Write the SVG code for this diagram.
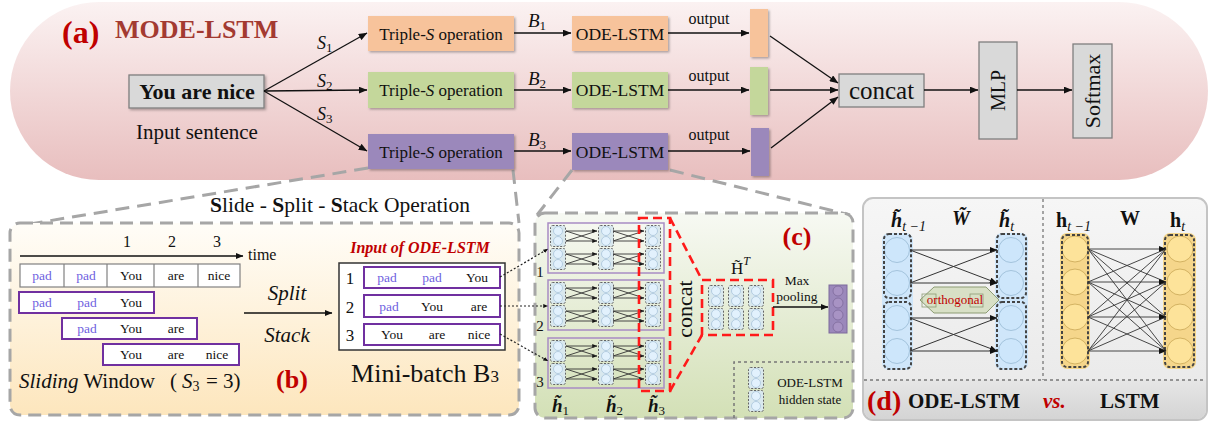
<svg xmlns="http://www.w3.org/2000/svg" width="1211" height="425" viewBox="0 0 1211 425">
  <defs>
    <style>
      text { font-family: "Liberation Serif", "Times New Roman", serif; fill: #111; }
      .mid { text-anchor: middle; }
      .it { font-style: italic; }
      .bd { font-weight: bold; }
      .red { fill: #c00000; }
      .tok { font-size: 13.5px; text-anchor: middle; }
      .pad { fill: #6f5fe0; }
      .conn { stroke: #111; stroke-width: 1.3; fill: none; }
      .thin { stroke: #333; stroke-width: 0.9; fill: none; }
      .zoomline { stroke: #a6a6a6; stroke-width: 3; stroke-dasharray: 14 8; fill: none; }
      .panel { stroke: #a6a6a6; stroke-width: 3; stroke-dasharray: 13 7; }
      .dotted { stroke: #222; stroke-width: 1.2; stroke-dasharray: 2 2; fill: none; }
      .win { fill: #fff; stroke: #7030a0; stroke-width: 2; }
      .blk { fill: none; stroke: #a88cc4; stroke-width: 1.5; }
      .reddash { fill: none; stroke: #ff1a1a; stroke-width: 2.6; stroke-dasharray: 9 5; }
      .gray { fill: #d9d9d9; stroke: #7f7f7f; stroke-width: 1.3; }
      .orange { fill: #f7c39b; }
      .green { fill: #c4d79b; }
      .purple { fill: #9b88bb; }
      .bcirc { fill: #cde6fb; stroke: #a3c3dc; stroke-width: 1; }
      .ycirc { fill: #fde39a; stroke: #d3b262; stroke-width: 1; }
      .dcell { fill: none; stroke: #444; stroke-width: 2; stroke-dasharray: 3 2; }
      .divider { stroke: #777; stroke-width: 1.3; stroke-dasharray: 3 3; fill: none; }
      .up { font-style: normal; font-weight: normal; }
    </style>
    <linearGradient id="gPill" x1="0" y1="0" x2="0" y2="1">
      <stop offset="0" stop-color="#fbf2f2"/>
      <stop offset="1" stop-color="#e8bebe"/>
    </linearGradient>
    <linearGradient id="gB" x1="0" y1="0" x2="0" y2="1">
      <stop offset="0" stop-color="#fffdf8"/>
      <stop offset="1" stop-color="#fde6bd"/>
    </linearGradient>
    <linearGradient id="gC" x1="0" y1="0" x2="0" y2="1">
      <stop offset="0" stop-color="#f7f9f3"/>
      <stop offset="1" stop-color="#d3e0b6"/>
    </linearGradient>
    <linearGradient id="gD" x1="0" y1="0" x2="0" y2="1">
      <stop offset="0" stop-color="#f6f6f6"/>
      <stop offset="1" stop-color="#e8e8e8"/>
    </linearGradient>
    <linearGradient id="gD2" x1="0" y1="0" x2="0" y2="1">
      <stop offset="0" stop-color="#e6e6e6"/>
      <stop offset="1" stop-color="#d4d4d4"/>
    </linearGradient>
    <filter id="sh" x="-10%" y="-10%" width="130%" height="140%">
      <feDropShadow dx="1.5" dy="1.5" stdDeviation="0.8" flood-color="#000" flood-opacity="0.3"/>
    </filter>
    <marker id="ah" viewBox="0 0 10 8" markerWidth="9" markerHeight="7" refX="9.5" refY="4" orient="auto" markerUnits="userSpaceOnUse">
      <path d="M0,0 L10,4 L0,8 z" fill="#111"/>
    </marker>
    <marker id="am" viewBox="0 0 10 8" markerWidth="8" markerHeight="6" refX="9.5" refY="4" orient="auto" markerUnits="userSpaceOnUse">
      <path d="M0,0 L10,4 L0,8 z" fill="#111"/>
    </marker>
    <marker id="as" viewBox="0 0 10 8" markerWidth="5" markerHeight="4" refX="9.5" refY="4" orient="auto" markerUnits="userSpaceOnUse">
      <path d="M0,0 L10,4 L0,8 z" fill="#111"/>
    </marker>
    <!-- hidden-state cell: two neurons in a dashed box -->
    <g id="cell">
      <rect x="0.5" y="0.5" width="15" height="21" rx="2" fill="#d9e8ee" stroke="#666" stroke-width="1" stroke-dasharray="2 1.5"/>
      <circle cx="8" cy="6" r="4.5" fill="#e2f1fd" stroke="#a9c4da" stroke-width="0.8"/>
      <circle cx="8" cy="16" r="4.5" fill="#e2f1fd" stroke="#a9c4da" stroke-width="0.8"/>
    </g>
    <!-- crossed links between two consecutive cells -->
    <g id="xlink">
      <line x1="0" y1="6" x2="31" y2="6" class="thin" marker-end="url(#as)"/>
      <line x1="0" y1="16" x2="31" y2="16" class="thin" marker-end="url(#as)"/>
      <line x1="0" y1="6" x2="31" y2="16" class="thin"/>
      <line x1="0" y1="16" x2="31" y2="6" class="thin"/>
    </g>
    <!-- one ODE-LSTM block: three time steps with links -->
    <g id="block">
      <rect x="548" y="0" width="116" height="50" class="blk"/>
      <use href="#cell" x="550" y="2"/>
      <use href="#cell" x="550" y="25"/>
      <use href="#cell" x="598" y="2"/>
      <use href="#cell" x="598" y="25"/>
      <use href="#cell" x="645" y="2"/>
      <use href="#cell" x="645" y="25"/>
      <use href="#xlink" x="566" y="2"/>
      <use href="#xlink" x="566" y="25"/>
      <use href="#xlink" x="613" y="2"/>
      <use href="#xlink" x="613" y="25"/>
    </g>
  </defs>

  <!-- (a) background -->
  <rect x="10" y="2" width="1198" height="178" rx="89" fill="url(#gPill)"/>

  <!-- magnifier guides -->
  <g id="guides">
    <line x1="368" y1="168" x2="30" y2="224" class="zoomline"/>
    <line x1="513" y1="170" x2="519" y2="223" class="zoomline"/>
    <line x1="572" y1="170" x2="537" y2="215" class="zoomline"/>
    <line x1="670" y1="170" x2="850" y2="215" class="zoomline"/>
  </g>

  <g id="title-a">
    <text x="62" y="43" font-size="32" class="bd red">(a)</text>
    <text x="115" y="38" font-size="26" class="bd" style="fill:#a33a31">MODE-LSTM</text>
  </g>

  <g id="input">
    <rect x="129" y="75" width="135" height="33" class="gray" filter="url(#sh)"/>
    <text x="197" y="99" font-size="22" class="mid bd">You are nice</text>
    <text x="197" y="139" font-size="21" class="mid">Input sentence</text>
  </g>

  <g id="triple1">
    <rect x="368" y="16" width="146" height="35" class="orange" filter="url(#sh)"/>
    <text x="441" y="39.5" font-size="17" class="mid">Triple-<tspan class="it">S</tspan> operation</text>
  </g>
  <g id="triple2">
    <rect x="368" y="72" width="146" height="36" class="green" filter="url(#sh)"/>
    <text x="441" y="96" font-size="17" class="mid">Triple-<tspan class="it">S</tspan> operation</text>
  </g>
  <g id="triple3">
    <rect x="368" y="134" width="146" height="35" class="purple" filter="url(#sh)"/>
    <text x="441" y="157.5" font-size="17" class="mid">Triple-<tspan class="it">S</tspan> operation</text>
  </g>

  <g id="ode1">
    <rect x="572" y="16" width="96" height="35" class="orange" filter="url(#sh)"/>
    <text x="620" y="39.5" font-size="17.5" class="mid">ODE-LSTM</text>
  </g>
  <g id="ode2">
    <rect x="572" y="72" width="96" height="36" class="green" filter="url(#sh)"/>
    <text x="620" y="96" font-size="17.5" class="mid">ODE-LSTM</text>
  </g>
  <g id="ode3">
    <rect x="572" y="133" width="96" height="37" class="purple" filter="url(#sh)"/>
    <text x="620" y="157.5" font-size="17.5" class="mid">ODE-LSTM</text>
  </g>

  <g id="out1"><rect x="750" y="9" width="18" height="48" class="orange" filter="url(#sh)"/></g>
  <g id="out2"><rect x="750" y="67" width="18" height="48" class="green" filter="url(#sh)"/></g>
  <g id="out3"><rect x="751" y="128" width="18" height="48" class="purple" filter="url(#sh)"/></g>

  <g id="concat">
    <rect x="839" y="74" width="85" height="33" class="gray"/>
    <text x="881.5" y="99" font-size="25" class="mid">concat</text>
  </g>
  <g id="mlp">
    <rect x="979" y="42" width="38" height="97" class="gray"/>
    <text x="0" y="0" font-size="20" class="mid" transform="translate(1005,90.5) rotate(-90)">MLP</text>
  </g>
  <g id="softmax">
    <rect x="1073" y="44" width="39" height="94" class="gray"/>
    <text x="0" y="0" font-size="22" class="mid" transform="translate(1100,91) rotate(-90)">Softmax</text>
  </g>

  <!-- (a) connectors -->
  <g id="connectors-a">
    <line x1="264" y1="91" x2="367" y2="33" class="conn" marker-end="url(#ah)"/>
    <line x1="264" y1="91" x2="367" y2="90" class="conn" marker-end="url(#ah)"/>
    <line x1="264" y1="91" x2="367" y2="151" class="conn" marker-end="url(#ah)"/>
    <line x1="514" y1="33" x2="571" y2="33" class="conn" marker-end="url(#ah)"/>
    <line x1="514" y1="90" x2="571" y2="90" class="conn" marker-end="url(#ah)"/>
    <line x1="514" y1="151" x2="571" y2="151" class="conn" marker-end="url(#ah)"/>
    <line x1="668" y1="33" x2="749" y2="33" class="conn" marker-end="url(#ah)"/>
    <line x1="668" y1="90" x2="749" y2="90" class="conn" marker-end="url(#ah)"/>
    <line x1="668" y1="151" x2="750" y2="151" class="conn" marker-end="url(#ah)"/>
    <line x1="770" y1="36" x2="838" y2="83" class="conn" marker-end="url(#ah)"/>
    <line x1="770" y1="90" x2="838" y2="90" class="conn" marker-end="url(#ah)"/>
    <line x1="771" y1="148" x2="838" y2="97" class="conn" marker-end="url(#ah)"/>
    <line x1="924" y1="90" x2="978" y2="90" class="conn" marker-end="url(#ah)"/>
    <line x1="1017" y1="90" x2="1072" y2="90" class="conn" marker-end="url(#ah)"/>
    <text x="317" y="49" font-size="18" class="it">S<tspan font-size="13" dy="3" class="up">1</tspan></text>
    <text x="317" y="86.5" font-size="18" class="it">S<tspan font-size="13" dy="3" class="up">2</tspan></text>
    <text x="317" y="120" font-size="18" class="it">S<tspan font-size="13" dy="3" class="up">3</tspan></text>
    <text x="528" y="27" font-size="19" class="it">B<tspan font-size="13" dy="3" class="up">1</tspan></text>
    <text x="528" y="85" font-size="19" class="it">B<tspan font-size="13" dy="3" class="up">2</tspan></text>
    <text x="528" y="146" font-size="19" class="it">B<tspan font-size="13" dy="3" class="up">3</tspan></text>
    <text x="709" y="24" font-size="16" class="mid">output</text>
    <text x="709" y="81" font-size="16" class="mid">output</text>
    <text x="709" y="140" font-size="16" class="mid">output</text>
  </g>

  <!-- (b) Triple-S operation -->
  <text x="340" y="212" font-size="21.5" class="mid"><tspan class="bd">S</tspan>lide - <tspan class="bd">S</tspan>plit - <tspan class="bd">S</tspan>tack Operation</text>
  <g id="panel-b">
    <rect x="10" y="223" width="509" height="192" rx="10" fill="url(#gB)" class="panel"/>
    <line x1="20" y1="256" x2="243" y2="256" class="conn" marker-end="url(#am)"/>
    <text x="248" y="260" font-size="16">time</text>
    <text x="127" y="247" font-size="16" class="mid">1</text>
    <text x="172" y="247" font-size="16" class="mid">2</text>
    <text x="217" y="247" font-size="16" class="mid">3</text>
    <rect x="20" y="264" width="220" height="23" fill="#fff" stroke="#808080" stroke-width="1.2"/>
    <line x1="64" y1="264" x2="64" y2="287" stroke="#808080" stroke-width="1.2"/>
    <line x1="107" y1="264" x2="107" y2="287" stroke="#808080" stroke-width="1.2"/>
    <line x1="154" y1="264" x2="154" y2="287" stroke="#808080" stroke-width="1.2"/>
    <line x1="198" y1="264" x2="198" y2="287" stroke="#808080" stroke-width="1.2"/>
    <text x="42" y="280" class="tok pad">pad</text>
    <text x="86" y="280" class="tok pad">pad</text>
    <text x="131" y="280" class="tok">You</text>
    <text x="176" y="280" class="tok">are</text>
    <text x="219" y="280" class="tok">nice</text>

    <rect x="19" y="292" width="135" height="21" class="win"/>
    <text x="42" y="307" class="tok pad">pad</text>
    <text x="87" y="307" class="tok pad">pad</text>
    <text x="131" y="307" class="tok">You</text>
    <rect x="62" y="318" width="135" height="21" class="win"/>
    <text x="87" y="333" class="tok pad">pad</text>
    <text x="131" y="333" class="tok">You</text>
    <text x="176" y="333" class="tok">are</text>
    <rect x="103" y="344" width="136" height="21" class="win"/>
    <text x="131" y="359" class="tok">You</text>
    <text x="176" y="359" class="tok">are</text>
    <text x="217" y="359" class="tok">nice</text>

    <text x="19" y="388" font-size="21"><tspan class="it">Sliding</tspan> Window<tspan x="170">(</tspan><tspan x="182" class="it">S</tspan><tspan font-size="14" dy="3">3</tspan><tspan x="206" dy="-3">= 3)</tspan></text>

    <text x="287" y="300" font-size="21" class="mid it">Split</text>
    <line x1="244" y1="313" x2="332" y2="313" class="conn" marker-end="url(#am)"/>
    <text x="287" y="342" font-size="21" class="mid it">Stack</text>
    <text x="292" y="388" font-size="26" class="mid bd red">(b)</text>

    <text x="420" y="253" font-size="16" class="mid bd it red">Input of ODE-LSTM</text>
    <rect x="339" y="263" width="166" height="87" fill="#fff" stroke="#333" stroke-width="1.5"/>
    <text x="350" y="284" font-size="17" class="mid">1</text>
    <text x="350" y="313" font-size="17" class="mid">2</text>
    <text x="350" y="341" font-size="17" class="mid">3</text>
    <rect x="364" y="267" width="136" height="21" class="win"/>
    <text x="387" y="282" class="tok pad">pad</text>
    <text x="432" y="282" class="tok pad">pad</text>
    <text x="477" y="282" class="tok">You</text>
    <rect x="364" y="295" width="136" height="22" class="win"/>
    <text x="389" y="311" class="tok pad">pad</text>
    <text x="432" y="311" class="tok">You</text>
    <text x="479" y="311" class="tok">are</text>
    <rect x="364" y="324" width="136" height="21" class="win"/>
    <text x="392" y="339" class="tok">You</text>
    <text x="437" y="339" class="tok">are</text>
    <text x="479" y="339" class="tok">nice</text>
    <text x="425" y="382" font-size="26" class="mid">Mini-batch B<tspan font-size="17">3</tspan></text>
  </g>

  <!-- (c) ODE-LSTM on a mini-batch -->
  <g id="panel-c">
    <rect x="535" y="213" width="318" height="205" rx="10" fill="url(#gC)" class="panel"/>
    <text x="797" y="245" font-size="26" class="mid bd red">(c)</text>
    <use href="#block" x="0" y="223"/>
    <use href="#block" x="0" y="280"/>
    <use href="#block" x="0" y="338"/>
    <text x="540" y="277" font-size="15" class="mid">1</text>
    <text x="540" y="331" font-size="15" class="mid">2</text>
    <text x="540" y="387" font-size="15" class="mid">3</text>

    <rect x="639" y="218" width="31" height="173" class="reddash"/>
    <line x1="670" y1="218" x2="702" y2="280" class="reddash"/>
    <line x1="670" y1="391" x2="702" y2="335" class="reddash"/>
    <text x="0" y="0" font-size="22" class="mid" transform="translate(692,309) rotate(-90)">concat</text>

    <rect x="702" y="280" width="71" height="55" class="reddash"/>
    <use href="#cell" x="708" y="285"/>
    <use href="#cell" x="708" y="308"/>
    <use href="#cell" x="728" y="285"/>
    <use href="#cell" x="728" y="308"/>
    <use href="#cell" x="748" y="285"/>
    <use href="#cell" x="748" y="308"/>
    <text x="731" y="274" font-size="17">H&#x303;<tspan dy="-9" font-size="12" class="it">T</tspan></text>

    <text x="797" y="285" font-size="13.5" class="mid">Max</text>
    <text x="797" y="301" font-size="13.5" class="mid">pooling</text>
    <line x1="773" y1="307" x2="828" y2="307" class="conn" marker-end="url(#am)"/>
    <rect x="829" y="285" width="18" height="48" fill="#9b88bb" stroke="#7d6a9b" stroke-width="1"/>
    <circle cx="838" cy="291" r="5" fill="#a893c4" stroke="#7d6a9b" stroke-width="0.8"/>
    <circle cx="838" cy="303" r="5" fill="#a893c4" stroke="#7d6a9b" stroke-width="0.8"/>
    <circle cx="838" cy="315" r="5" fill="#a893c4" stroke="#7d6a9b" stroke-width="0.8"/>
    <circle cx="838" cy="327" r="5" fill="#a893c4" stroke="#7d6a9b" stroke-width="0.8"/>

    <polyline points="734,418 734,362 853,362" fill="none" stroke="#777" stroke-width="1.5" stroke-dasharray="3 3"/>
    <use href="#cell" x="748" y="367"/>
    <use href="#cell" x="748" y="390"/>
    <text x="810" y="387" font-size="13" class="mid">ODE-LSTM</text>
    <text x="810" y="404" font-size="13" class="mid">hidden state</text>

    <!-- step labels h~1..h~3 -->
    <text x="552" y="412" font-size="19" class="bd it">h&#x303;<tspan dy="3" font-size="13" class="up">1</tspan></text>
    <text x="606" y="412" font-size="19" class="bd it">h&#x303;<tspan dy="3" font-size="13" class="up">2</tspan></text>
    <text x="648" y="412" font-size="19" class="bd it">h&#x303;<tspan dy="3" font-size="13" class="up">3</tspan></text>
  </g>

  <!-- dotted links from mini-batch rows -->
  <g id="connectors-bc">
    <line x1="500" y1="277" x2="548" y2="249" class="dotted" marker-end="url(#as)"/>
    <line x1="500" y1="306" x2="548" y2="306" class="dotted" marker-end="url(#as)"/>
    <line x1="500" y1="334" x2="548" y2="361" class="dotted" marker-end="url(#as)"/>
  </g>

  <!-- (d) ODE-LSTM vs LSTM -->
  <g id="panel-d">
    <rect x="863" y="198" width="344" height="222" rx="10" fill="url(#gD)" stroke="#c4c4c4" stroke-width="2"/>
    <path d="M864,380 H1206 V410 a9,9 0 0 1 -9,9 H873 a9,9 0 0 1 -9,-9 Z" fill="url(#gD2)"/>
    <line x1="1043" y1="199" x2="1043" y2="380" class="divider"/>
    <line x1="864" y1="380" x2="1206" y2="380" class="divider"/>

    <!-- ODE-LSTM layer -->
    <rect x="882" y="233" width="31" height="137" rx="7" fill="#cfe6fa"/>
    <rect x="995" y="233" width="33" height="137" rx="7" fill="#cfe6fa"/>
    <circle cx="897" cy="250" r="12.5" class="bcirc"/>
    <circle cx="897" cy="283" r="12.5" class="bcirc"/>
    <circle cx="897" cy="318" r="12.5" class="bcirc"/>
    <circle cx="897" cy="351" r="12.5" class="bcirc"/>
    <circle cx="1011" cy="250" r="12.5" class="bcirc"/>
    <circle cx="1011" cy="283" r="12.5" class="bcirc"/>
    <circle cx="1011" cy="318" r="12.5" class="bcirc"/>
    <circle cx="1011" cy="351" r="12.5" class="bcirc"/>
    <rect x="884" y="234" width="27" height="64" rx="5" class="dcell"/>
    <rect x="884" y="302" width="27" height="67" rx="5" class="dcell"/>
    <rect x="997" y="234" width="29" height="64" rx="5" class="dcell"/>
    <rect x="997" y="302" width="29" height="67" rx="5" class="dcell"/>
    <g stroke="#333" stroke-width="1" fill="none">
      <line x1="910" y1="250" x2="997" y2="250" marker-end="url(#am)"/>
      <line x1="910" y1="250" x2="997" y2="283" marker-end="url(#am)"/>
      <line x1="910" y1="283" x2="997" y2="250"/>
      <line x1="910" y1="283" x2="997" y2="283" marker-end="url(#am)"/>
      <line x1="910" y1="318" x2="997" y2="318" marker-end="url(#am)"/>
      <line x1="910" y1="318" x2="997" y2="351" marker-end="url(#am)"/>
      <line x1="910" y1="351" x2="997" y2="318"/>
      <line x1="910" y1="351" x2="997" y2="351" marker-end="url(#am)"/>
    </g>
    <polygon points="920,300 934,287 986,287 999,300 986,313 934,313" fill="#d8e0c6" stroke="#8d9c74" stroke-width="1"/>
    <rect x="922" y="294" width="14" height="13" fill="none" stroke="#8d9c74" stroke-width="0.8"/>
    <rect x="970" y="294" width="13" height="13" fill="none" stroke="#8d9c74" stroke-width="0.8"/>
    <text x="955" y="304" font-size="13" class="mid red">orthogonal</text>

    <text x="891" y="227" font-size="20" class="bd it">h&#x303;<tspan dy="4" font-size="14" font-weight="normal">t −1</tspan></text>
    <text x="952" y="225" font-size="20" class="bd it">W&#x303;</text>
    <text x="999" y="227" font-size="20" class="bd it">h&#x303;<tspan dy="4" font-size="14" font-weight="normal">t</tspan></text>

    <!-- LSTM layer -->
    <rect x="1060" y="233" width="30" height="136" rx="7" fill="#f5d68b"/>
    <rect x="1163" y="233" width="33" height="136" rx="7" fill="#f5d68b"/>
    <circle cx="1075" cy="249" r="13" class="ycirc"/>
    <circle cx="1075" cy="282" r="13" class="ycirc"/>
    <circle cx="1075" cy="317" r="13" class="ycirc"/>
    <circle cx="1075" cy="351" r="13" class="ycirc"/>
    <circle cx="1180" cy="249" r="13" class="ycirc"/>
    <circle cx="1180" cy="282" r="13" class="ycirc"/>
    <circle cx="1180" cy="317" r="13" class="ycirc"/>
    <circle cx="1180" cy="351" r="13" class="ycirc"/>
    <rect x="1062" y="235" width="26" height="132" rx="5" class="dcell"/>
    <rect x="1165" y="235" width="29" height="132" rx="5" class="dcell"/>
    <g stroke="#333" stroke-width="0.9" fill="none">
      <line x1="1088" y1="249" x2="1166" y2="249" marker-end="url(#am)"/>
      <line x1="1088" y1="249" x2="1166" y2="282"/>
      <line x1="1088" y1="249" x2="1166" y2="317"/>
      <line x1="1088" y1="249" x2="1166" y2="351"/>
      <line x1="1088" y1="282" x2="1166" y2="249"/>
      <line x1="1088" y1="282" x2="1166" y2="282" marker-end="url(#am)"/>
      <line x1="1088" y1="282" x2="1166" y2="317"/>
      <line x1="1088" y1="282" x2="1166" y2="351"/>
      <line x1="1088" y1="317" x2="1166" y2="249"/>
      <line x1="1088" y1="317" x2="1166" y2="282"/>
      <line x1="1088" y1="317" x2="1166" y2="317" marker-end="url(#am)"/>
      <line x1="1088" y1="317" x2="1166" y2="351"/>
      <line x1="1088" y1="351" x2="1166" y2="249"/>
      <line x1="1088" y1="351" x2="1166" y2="282"/>
      <line x1="1088" y1="351" x2="1166" y2="317"/>
      <line x1="1088" y1="351" x2="1166" y2="351" marker-end="url(#am)"/>
    </g>
    <text x="1056" y="227" font-size="20" class="bd">h<tspan font-size="14" font-weight="normal" font-style="italic" dy="4">t −1</tspan></text>
    <text x="1120" y="225" font-size="20" class="bd">W</text>
    <text x="1170" y="227" font-size="20" class="bd">h<tspan font-size="14" font-weight="normal" font-style="italic" dy="4">t</tspan></text>

    <text x="867" y="410" font-size="28" class="bd red">(d)</text>
    <text x="908" y="408" font-size="21" class="bd">ODE-LSTM</text>
    <text x="1043" y="408" font-size="21" class="bd it red">vs.</text>
    <text x="1100" y="408" font-size="21" class="bd">LSTM</text>
  </g>
</svg>
